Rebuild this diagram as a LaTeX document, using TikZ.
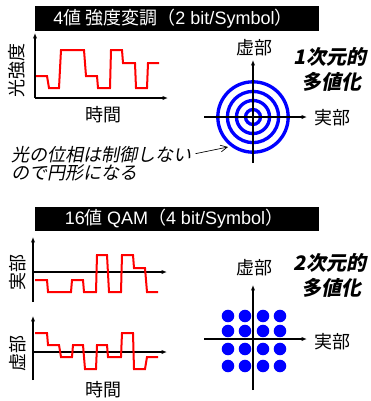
\documentclass[tikz,border=0pt]{standalone}
\usepackage{fontspec}
\setmainfont{Liberation Sans}
\newfontfamily\jp{Noto Sans CJK JP}
\newfontfamily\jpit{Noto Sans CJK JP}[FakeSlant=0.2]
\newfontfamily\jpbf{Noto Sans CJK JP}[FakeSlant=0.2]
\usetikzlibrary{arrows.meta}
\pgfdeclareradialshading{dotblur}{\pgfpoint{0bp}{0bp}}{color(0bp)=(blue); color(31bp)=(blue); color(41bp)=(blue!45); color(50bp)=(white)}
\begin{document}
\begin{tikzpicture}[x=0.75pt,y=-0.75pt,
  axis/.style={line width=0.8pt,-{Latex[length=4pt,width=3.2pt]}},
  sig/.style={red,line width=1.5pt,line join=miter},
  ring/.style={blue,line width=2.5pt},
  banner/.style={fill=black,draw=none},
  bantext/.style={text=white,font=\fontsize{13.5}{15}\selectfont,inner sep=0pt},
  lab/.style={font=\jp\fontsize{13.5}{15}\selectfont,inner sep=0pt},
  big/.style={font=\jpbf\bfseries\fontsize{15}{17}\selectfont,inner sep=0pt},
  note/.style={font=\jpit\fontsize{13.5}{15}\selectfont,inner sep=0pt,anchor=west},
  ann/.style={line width=0.5pt,-{Straight Barb[length=5pt,width=5pt]}}]
\path[use as bounding box] (0,0) rectangle (371,401);

% ---------- top banner ----------
\fill[banner] (35,6) rectangle (319,31);
\node[bantext] (t1) at (173,18.5) {4{\jp 値 強度変調（}2 bit/Symbol{\jp ）}};

% ---------- top intensity graph ----------
\coordinate (o1) at (35,98);
\coordinate (x1) at (168,98);
\coordinate (y1) at (35,33);
\draw[axis] (o1) -- (x1);
\draw[axis] (o1) -- (y1);
\draw[sig] (36,76) -- (47,76) -- (49,88) -- (59,88) -- (61,50) -- (84,50) -- (86,76) -- (97,76) -- (98,88) -- (110,88) -- (111,50) -- (122,50) -- (123,63) -- (135,63) -- (136,88) -- (147,88) -- (148,63) -- (159,63);
\node[lab,rotate=90] (li) at (17,70) {光強度};
\node[lab] (lt1) at (103,115) {時間};

% ---------- top circle diagram ----------
\coordinate (c1) at (253,117);
\coordinate (c1l) at (204,117);
\coordinate (c1r) at (307,117);
\coordinate (c1b) at (253,163);
\coordinate (c1t) at (253,60);
\foreach \r in {5.6,12.4,19.2,26.4} \draw[ring] (c1) circle[radius=\r pt];
\draw[axis] (c1l) -- (c1r);
\draw[axis] (c1b) -- (c1t);
\node[lab] (im1) at (254,48) {虚部};
\node[lab] (re1) at (333,118) {実部};
\node[big] (d1a) at (330,57) {1次元的};
\node[big] (d1b) at (331,82) {多値化};
\node[note] (n1) at (11,155) {光の位相は制御しない};
\node[note] (n2) at (11,173) {ので円形になる};
\coordinate (ae) at (228,147);
\draw[ann] (n1.east) ++(3pt,1pt) -- (ae);

% ---------- bottom banner ----------
\fill[banner] (35,207) rectangle (319,231);
\node[bantext] (t2) at (174,219) {16{\jp 値 }QAM{\jp （}4 bit/Symbol{\jp ）}};

% ---------- real-part graph ----------
\coordinate (o2) at (33,302);
\coordinate (y2) at (33,237);
\coordinate (h2l) at (33,272);
\coordinate (h2r) at (167,272);
\draw[axis] (o2) -- (y2);
\draw[axis] (h2l) -- (h2r);
\draw[sig] (35,280) -- (47,280) -- (48,292) -- (71,292) -- (72,280) -- (83,280) -- (84,292) -- (96,292) -- (97,255) -- (107,255) -- (109,292) -- (121,292) -- (122,255) -- (133,255) -- (134,268) -- (145,268) -- (147,292) -- (158,292);
\node[lab,rotate=90] (lre) at (18,272) {実部};

% ---------- imaginary-part graph ----------
\coordinate (o3) at (33,380);
\coordinate (y3) at (33,316);
\coordinate (h3l) at (33,352);
\coordinate (h3r) at (167,352);
\draw[axis] (o3) -- (y3);
\draw[axis] (h3l) -- (h3r);
\draw[sig] (35,333) -- (47,333) -- (48,345) -- (59,345) -- (61,357) -- (72,357) -- (73,345) -- (83,345) -- (85,369) -- (96,369) -- (97,345) -- (107,345) -- (108,357) -- (121,357) -- (122,333) -- (133,333) -- (134,369) -- (145,369) -- (147,357) -- (158,357);
\node[lab,rotate=90] (lim) at (18,353) {虚部};
\node[lab] (lt2) at (103,390) {時間};

% ---------- constellation ----------
\coordinate (c2l) at (204,339);
\coordinate (c2r) at (307,339);
\coordinate (c2b) at (253,390);
\coordinate (c2t) at (253,285);
\draw[axis] (c2l) -- (c2r);
\draw[axis] (c2b) -- (c2t);
\foreach \x in {228,245,263,280}
  \foreach \y in {316,331,349,366}
    \shade[shading=dotblur] (\x,\y) circle[radius=4.7pt];
\node[lab] (im2) at (254,268) {虚部};
\node[lab] (re2) at (333,342) {実部};
\node[big] (d2a) at (330,263) {2次元的};
\node[big] (d2b) at (331,288) {多値化};
\end{tikzpicture}
\end{document}
